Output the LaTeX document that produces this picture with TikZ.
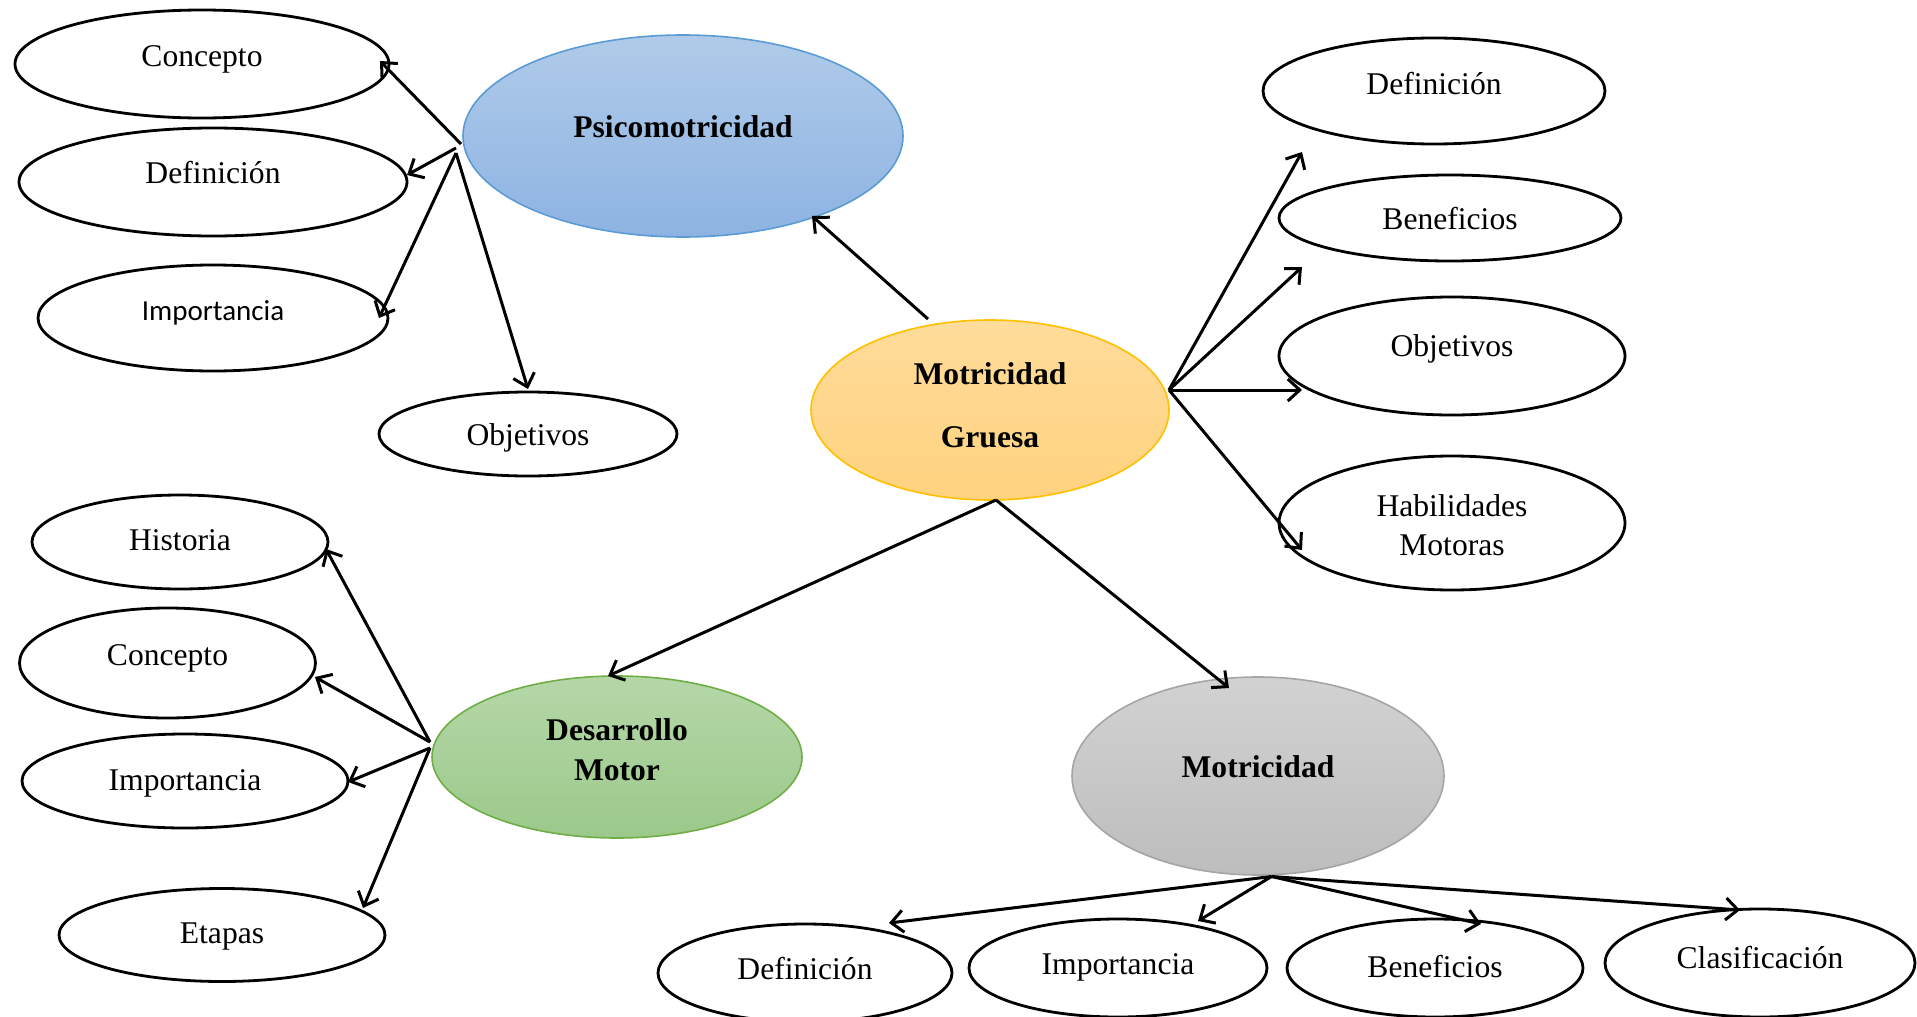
\documentclass[tikz,border=0pt]{standalone}
\usepackage{fontspec}
\setmainfont{Liberation Serif}
\newfontfamily\calibrifont{Carlito}
\usetikzlibrary{shapes.geometric,arrows.meta}

% colours of the four main topics
\definecolor{psiTop}{HTML}{B0CBE9}
\definecolor{psiBot}{HTML}{8DB3E2}
\definecolor{psiLine}{HTML}{5B9BD5}
\definecolor{mgTop}{HTML}{FFDC9A}
\definecolor{mgBot}{HTML}{FFD27F}
\definecolor{mgLine}{HTML}{FFC000}
\definecolor{dmTop}{HTML}{B5D7A8}
\definecolor{dmBot}{HTML}{9BC98A}
\definecolor{dmLine}{HTML}{70AD47}
\definecolor{moTop}{HTML}{D2D2D2}
\definecolor{moBot}{HTML}{BDBDBD}
\definecolor{moLine}{HTML}{A5A5A5}

\tikzset{
  oval/.style={ellipse, draw=black, line width=1.4pt, fill=white, inner sep=0pt},
  topic/.style={ellipse, line width=0.8pt, inner sep=0pt},
  lbl/.style={font=\fontsize{15.8}{19}\selectfont, text height=0.7em, text depth=0.25em, inner sep=0pt},
  lblsans/.style={font=\fontsize{14.5}{18}\selectfont\calibrifont, text height=0.7em, text depth=0.25em, inner sep=0pt},
  lblbold/.style={font=\fontsize{15.8}{19}\selectfont\bfseries, text height=0.7em, text depth=0.25em, inner sep=0pt},
  conn/.style={line width=1.5pt, -{Straight Barb[length=6pt,width=11pt]}},
}

\begin{document}
\begin{tikzpicture}[x=0.5pt, y=-0.5pt]
\useasboundingbox (0,0) rectangle (1917,1017);
\clip (0,0) rectangle (1917,1017);

% ---- main topics ----
\node[topic, draw=psiLine, top color=psiTop, bottom color=psiBot,
      minimum width=220pt, minimum height=101pt,
      label={[lblbold, yshift=1.5pt]center:Psicomotricidad}] (psi) at (683,136) {};
\node[topic, draw=mgLine, top color=mgTop, bottom color=mgBot,
      minimum width=179pt, minimum height=90pt,
      label={[font=\fontsize{15.8}{31.25}\selectfont\bfseries, align=center, inner sep=0pt, yshift=2.5pt]center:Motricidad\\Gruesa}] (mg) at (990,410) {};
\node[topic, draw=dmLine, top color=dmTop, bottom color=dmBot,
      minimum width=185pt, minimum height=81pt,
      label={[font=\fontsize{15.8}{20}\selectfont\bfseries, align=center, inner sep=0pt, yshift=3.5pt]center:Desarrollo\\Motor}] (dm) at (617,757) {};
\node[topic, draw=moLine, top color=moTop, bottom color=moBot,
      minimum width=186pt, minimum height=99pt,
      label={[lblbold, yshift=1.5pt]center:Motricidad}] (mo) at (1258,776) {};

% ---- Psicomotricidad branch ----
\node[oval, minimum width=187pt, minimum height=54pt, label={[lbl, yshift=1.0pt]center:Concepto}] (pconc) at (202,64) {};
\node[oval, minimum width=194pt, minimum height=54pt, label={[lbl, yshift=1.5pt]center:Definición}] (pdef) at (213,182) {};
\node[oval, minimum width=175pt, minimum height=53pt, label={[lblsans, yshift=0.9pt]center:Importancia}] (pimp) at (213,318) {};
\node[oval, minimum width=149pt, minimum height=42pt, label={[lbl, yshift=-3.5pt]center:Objetivos}] (pobj) at (528,434) {};

% ---- Motricidad Gruesa branch ----
\node[oval, minimum width=171pt, minimum height=53pt, label={[lbl, yshift=0.5pt]center:Definición}] (gdef) at (1434,91) {};
\node[oval, minimum width=171pt, minimum height=43pt, label={[lbl, yshift=-3.5pt]center:Beneficios}] (gben) at (1450,218) {};
\node[oval, minimum width=173pt, minimum height=59pt, label={[lbl, yshift=2.0pt]center:Objetivos}] (gobj) at (1452,356) {};
\node[oval, minimum width=173pt, minimum height=67pt,
      label={[font=\fontsize{15.8}{19.5}\selectfont, align=center, inner sep=0pt, yshift=-1.3pt]center:Habilidades\\Motoras}] (ghab) at (1452,523) {};

% ---- Desarrollo Motor branch ----
\node[oval, minimum width=148pt, minimum height=47pt, label={[lbl, yshift=-2.0pt]center:Historia}] (dhis) at (180,542) {};
\node[oval, minimum width=148pt, minimum height=55pt, label={[lbl, yshift=1.0pt]center:Concepto}] (dconc) at (167.5,663) {};
\node[oval, minimum width=163pt, minimum height=47pt, label={[lbl, yshift=-2.5pt]center:Importancia}] (dimp) at (185,781) {};
\node[oval, minimum width=163pt, minimum height=46.5pt, label={[lbl, yshift=-2.0pt]center:Etapas}] (deta) at (222,935) {};

% ---- Motricidad branch ----
\node[oval, minimum width=147pt, minimum height=49pt, label={[lbl, yshift=-1.0pt]center:Definición}] (mdef) at (805,973) {};
\node[oval, minimum width=149pt, minimum height=49pt, label={[lbl, yshift=-1.2pt]center:Importancia}] (mimp) at (1118,968) {};
\node[oval, minimum width=148pt, minimum height=49pt, label={[lbl, yshift=-2.5pt]center:Beneficios}] (mben) at (1435,968) {};
\node[oval, minimum width=155pt, minimum height=54pt, label={[lbl, yshift=-0.5pt]center:Clasificación}] (mcla) at (1760,963) {};

% ---- connector start and end points ----
\coordinate (psiA) at (461,144);
\coordinate (psiB) at (456,148);
\coordinate (psiC) at (456,153);
\coordinate (pconcE) at (380,61);
\coordinate (pdefE) at (407,175);
\coordinate (pimpE) at (379,318);
\coordinate (pobjE) at (528,389);

\coordinate (mgTopS) at (928,319);
\coordinate (psiE) at (812,216);
\coordinate (mgR) at (1169,390);
\coordinate (gdefE) at (1302,152);
\coordinate (gbenE) at (1302,267);
\coordinate (gobjE) at (1302,390);
\coordinate (ghabE) at (1302,550);
\coordinate (mgBotS) at (996,500);
\coordinate (dmE) at (608,676);
\coordinate (moE) at (1229,688);

\coordinate (dmA) at (430,742);
\coordinate (dmB) at (430,748);
\coordinate (dhisE) at (326,549);
\coordinate (dconcE) at (315,677);
\coordinate (dimpE) at (348,782);
\coordinate (detaE) at (363,908);

\coordinate (moS) at (1271.5,876.5);
\coordinate (mdefE) at (889,923);
\coordinate (mimpE) at (1198,921);
\coordinate (mbenE) at (1481,924);
\coordinate (mclaE) at (1740,910);

% ---- connectors ----
\draw[conn] (mgTopS) -- (psiE);
\draw[conn] (psiA) -- (pconcE);
\draw[conn] (psiB) -- (pdefE);
\draw[conn] (psiC) -- (pimpE);
\draw[conn] (psiC) -- (pobjE);

\draw[conn] (mgR) -- (gdefE);
\draw[conn] (mgR) -- (gbenE);
\draw[conn] (mgR) -- (gobjE);
\draw[conn] (mgR) -- (ghabE);

\draw[conn] (mgBotS) -- (dmE);
\draw[conn] (mgBotS) -- (moE);

\draw[conn] (dmA) -- (dhisE);
\draw[conn] (dmA) -- (dconcE);
\draw[conn] (dmB) -- (dimpE);
\draw[conn] (dmB) -- (detaE);

\draw[conn] (moS) -- (mdefE);
\draw[conn] (moS) -- (mimpE);
\draw[conn] (moS) -- (mbenE);
\draw[conn] (moS) -- (mclaE);
\end{tikzpicture}
\end{document}
